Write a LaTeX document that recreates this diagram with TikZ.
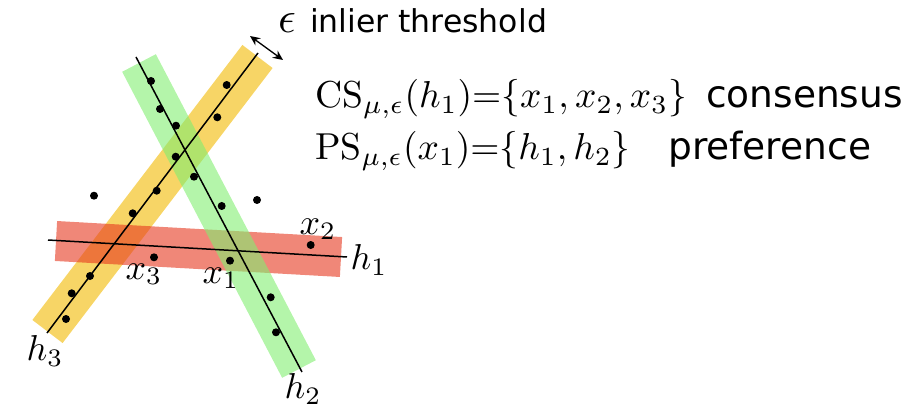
\RequirePackage{fix-cm}
\documentclass[tikz,border=0pt]{standalone}
\usepackage{graphicx}
\usepackage{fontspec}
\newfontfamily\dvsans{DejaVu Sans}
\usetikzlibrary{arrows.meta}
\definecolor{bandyellow}{RGB}{242,185,0}
\definecolor{bandred}{RGB}{230,55,30}
\definecolor{bandgreen}{RGB}{130,238,113}
\newcommand\scmath[2]{\scalebox{#1}{\fontsize{10}{12}\selectfont$#2$}}
\tikzset{
  band/.style={line width=38pt, opacity=0.6, line cap=butt},
  hline/.style={line width=1.5pt, black},
  dot/.style={circle, fill=black, inner sep=0pt, minimum size=8pt},
  lab/.style={inner sep=0pt},
  big/.style={inner sep=0pt, anchor=base west, font=\fontsize{37.5}{45}\selectfont},
  small/.style={inner sep=0pt, anchor=base west, font=\fontsize{31.5}{38}\selectfont},
}
\begin{document}
\begin{tikzpicture}[x=1pt, y=-1pt]
\useasboundingbox (0,0) rectangle (919,409);
% band end points
\coordinate (y1) at (47.5,331.5);
\coordinate (y2) at (257.5,56.5);
\coordinate (r1) at (56,241);
\coordinate (r2) at (341,257);
\coordinate (g1) at (139,63);
\coordinate (g2) at (299,369);
% line end points
\coordinate (h3a) at (47,333);
\coordinate (h3b) at (258,53);
\coordinate (h1a) at (48,240);
\coordinate (h1b) at (347,257);
\coordinate (h2a) at (136,57);
\coordinate (h2b) at (302,372);
% bands
\draw[band, bandyellow] (y1) -- (y2);
\draw[band, bandred, line width=40pt] (r1) -- (r2);
\draw[band, bandgreen] (g1) -- (g2);
% lines
\draw[hline] (h3a) -- (h3b);
\draw[hline] (h1a) -- (h1b);
\draw[hline] (h2a) -- (h2b);
% threshold arrow
\coordinate (ea) at (250,36);
\coordinate (eb) at (283,60);
\draw[line width=1.3pt, {Stealth[length=10pt,width=9pt]}-{Stealth[length=10pt,width=9pt]}] (ea) -- (eb);
% points on h2
\foreach \p [count=\i] in {(151,81),(160,109),(176,125.7),(194,176.7),(221.7,206),(270.7,297.3),(276,332.3)}
  \node[dot] (pg\i) at \p {};
% points on h3
\foreach \p [count=\i] in {(226.7,85),(217.3,117.3),(175.7,156.7),(156.7,190.7),(132.7,213.3),(90,276),(71.7,293.3),(66,319)}
  \node[dot] (py\i) at \p {};
% outliers
\node[dot] (o1) at (94,195.7) {};
\node[dot] (o2) at (257,200) {};
% named points
\node[dot] (x3) at (154,257.3) {};
\node[dot] (x1) at (230,260.7) {};
\node[dot] (x2) at (310.7,245) {};
% labels
\node[lab] (lx3) at (144,274) {\scmath{3.6}{x_3}};
\node[lab] (lx1) at (221,278) {\scmath{3.6}{x_1}};
\node[lab] (lx2) at (318,229) {\scmath{3.6}{x_2}};
\node[lab] (lh1) at (369,260) {\scmath{3.6}{h_1}};
\node[lab] (lh2) at (303,389) {\scmath{3.6}{h_2}};
\node[lab] (lh3) at (45,351) {\scmath{3.6}{h_3}};
% texts
\node[small] (eps) at (278,33) {\scmath{4.4}{\epsilon}\hspace{14pt}\dvsans inlier threshold};
\node[big] (cs) at (315,107.5) {\scmath{3.75}{\mathrm{CS}_{\mu,\epsilon}(h_1){=}\{x_1,x_2,x_3\}}};
\node[big] (cons) at (706,107.5) {\dvsans consensus};
\node[big] (ps) at (315,160) {\scmath{3.75}{\mathrm{PS}_{\mu,\epsilon}(x_1){=}\{h_1,h_2\}}};
\node[big] (pref) at (668,160) {\dvsans preference};
\end{tikzpicture}
\end{document}
